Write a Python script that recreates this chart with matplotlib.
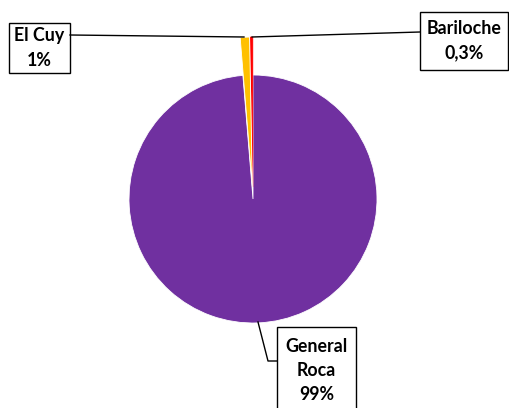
import matplotlib.pyplot as plt
from matplotlib.patches import Rectangle

# datos
localidades = ['Bariloche', 'El Cuy', 'General Roca']
porcentajes = [0.3, 1.0, 98.7]
colores = ['#FF0000', '#FFC000', '#7030A0']

W, H = 509, 408
fig = plt.figure(figsize=(W / 100, H / 100), dpi=100)
ax = fig.add_axes([0, 0, 1, 1])


def fmt(v):
    if v < 1:
        return f'{v:.1f}'.replace('.', ',') + '%'
    return f'{round(v):d}%'


# centro y radio en pixeles (y hacia arriba)
cx, cy, r = 253, H - 199, 124
wedges, _ = ax.pie(porcentajes, colors=colores, startangle=90, counterclock=True,
                   center=(cx, cy), radius=r, explode=[12, 12, 0],
                   wedgeprops=dict(edgecolor='white', linewidth=0.6))
# las porciones chicas salen mas largas
for w in wedges[:2]:
    w.set_radius(150)
    w.set_zorder(3)
wedges[0].set_linewidth(0)
wedges[0].set_edgecolor(colores[0])
wedges[0].set_linewidth(0.4)

ax.set_xlim(0, W)
ax.set_ylim(0, H)
ax.set_aspect('equal')
ax.axis('off')

fuente = dict(family=['Lato', 'DejaVu Sans'], weight='bold', size=12.8,
              ha='center', va='center', linespacing=1.5, color='black')

# cajas de etiquetas (x0, y0 arriba, x1, y1 abajo) en pixeles de pantalla
cajas = {
    'Bariloche': (420, 12, 508, 70),
    'El Cuy': (9, 23, 70, 73),
    'General Roca': (277, 327, 356, 420),
}
lineas = {
    'Bariloche': [(252, 37), (420, 32)],
    'El Cuy': [(70, 35), (244, 37)],
    'General Roca': [(258, 322), (268, 361), (277, 361)],
}

for nombre, v in zip(localidades, porcentajes):
    x0, y0, x1, y1 = cajas[nombre]
    ax.add_patch(Rectangle((x0, H - y1), x1 - x0, y1 - y0, facecolor='white',
                           edgecolor='black', linewidth=1.0, zorder=4))
    if nombre == 'General Roca':
        txt = nombre.replace(' ', '\n') + '\n' + fmt(v)
        yc = 371
    else:
        txt = nombre + '\n' + fmt(v)
        yc = (y0 + y1) / 2
    ax.text((x0 + x1) / 2, H - yc, txt, zorder=5, **fuente)
    pts = lineas[nombre]
    ax.plot([p[0] for p in pts], [H - p[1] for p in pts], color='black',
            linewidth=1.0, zorder=4)

fig.savefig('out.png', dpi=100)
